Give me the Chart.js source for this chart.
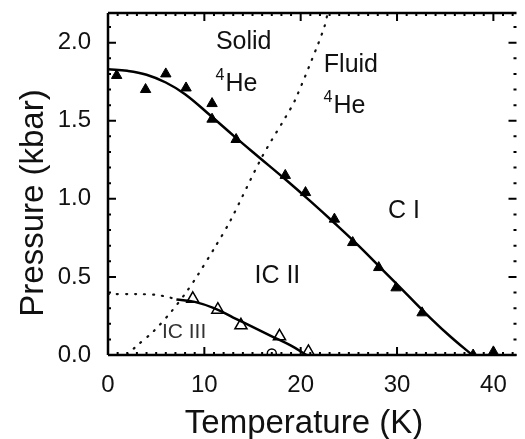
<!DOCTYPE html>
<html lang="en">

<head>
    <meta charset="UTF-8">
    <meta name="viewport" content="width=device-width, initial-scale=1.0">
</head>

<body style="margin:0; background:#fff;">
    <div class="chart-container" style="position:relative; height:439px; width:525px;">
        <canvas id="myChart"></canvas>
    </div>

    <script src="https://cdn.jsdelivr.net/npm/chart.js"></script>

    <script>

        // C I phase boundary, solid triangles
        const ciTemp = [0.9, 3.9, 6.0, 8.1, 10.8, 10.8, 13.3, 18.4, 20.5, 23.5, 25.4, 28.1, 29.9, 32.6, 37.9, 40.0];
        const ciPress = [1.79, 1.70, 1.80, 1.71, 1.61, 1.51, 1.38, 1.15, 1.04, 0.87, 0.72, 0.56, 0.43, 0.27, 0.0, 0.02];

        // fitted C I line
        const ciLineTemp = [0, 2, 4, 6, 8, 10.6, 13.2, 15.7, 18.4, 21, 23.5, 26, 28.5, 31, 33.5, 35.5, 37.8];
        const ciLinePress = [1.83, 1.82, 1.795, 1.745, 1.67, 1.535, 1.395, 1.265, 1.125, 0.985, 0.845, 0.70, 0.545, 0.39, 0.235, 0.12, 0.0];

        // IC II boundary, open triangles
        const iciiTemp = [8.8, 11.4, 13.8, 17.8, 20.8];
        const iciiPress = [0.36, 0.29, 0.19, 0.12, 0.02];
        const iciiLineTemp = [7.1, 9, 11, 13, 15, 17, 19, 20.6];
        const iciiLinePress = [0.355, 0.34, 0.30, 0.24, 0.18, 0.12, 0.06, 0.0];

        // open circle
        const circTemp = [17.0];
        const circPress = [0.01];

        // IC III dotted boundary
        const iciiiTemp = [0, 3, 5, 6.3, 7.1];
        const iciiiPress = [0.39, 0.39, 0.385, 0.37, 0.355];

        // melting curve of 4He (dotted)
        const meltTemp = [2.0, 3.0, 4.7, 6.6, 8.1, 9.3, 11.1, 12.7, 16.0, 18.4, 19.4, 21.8, 22.5, 22.8];
        const meltPress = [0.0, 0.06, 0.15, 0.28, 0.40, 0.51, 0.69, 0.86, 1.27, 1.52, 1.63, 1.99, 2.11, 2.19];

        const xTicks = [0, 10, 20, 30, 40];
        const yTicks = [0.0, 0.5, 1.0, 1.5, 2.0];
        const xRange = [0, 42.4];
        const yRange = [0, 2.19];

        const zip = (xs, ys) => xs.map((x, i) => ({ x: x, y: ys[i] }));

        const FONT = '"Liberation Sans", Arial, sans-serif';

        const frame = {
            id: 'frame',
            afterDraw(chart) {
                const c = chart.ctx;
                const a = chart.chartArea;
                const xs = chart.scales.x, ys = chart.scales.y;
                c.save();
                c.strokeStyle = '#000';
                c.lineWidth = 2.5;
                c.beginPath();
                c.moveTo(a.left, a.top); c.lineTo(a.left, a.bottom);
                c.moveTo(a.left, a.bottom); c.lineTo(a.right, a.bottom);
                c.moveTo(a.left, a.top); c.lineTo(a.right, a.top);
                c.stroke();

                // inward ticks, major and minor
                c.lineWidth = 2;
                c.beginPath();
                for (let v = 0; v <= xRange[1]; v += 1) {
                    const px = xs.getPixelForValue(v);
                    const len = (v % 10 === 0) ? 8 : 3;
                    c.moveTo(px, a.bottom); c.lineTo(px, a.bottom - len);
                    c.moveTo(px, a.top); c.lineTo(px, a.top + len);
                }
                for (let i = 0; i <= 21; i++) {
                    const py = ys.getPixelForValue(i / 10);
                    const len = (i % 5 === 0) ? 8 : 3;
                    c.moveTo(a.left, py); c.lineTo(a.left + len, py);
                    c.moveTo(a.right, py); c.lineTo(a.right - len, py);
                }
                c.stroke();

                // region labels
                c.fillStyle = '#111';
                c.textBaseline = 'alphabetic';
                c.textAlign = 'left';
                const txt = (s, T, P, size) => {
                    c.font = size + 'px ' + FONT;
                    c.fillText(s, xs.getPixelForValue(T), ys.getPixelForValue(P));
                };
                const he = (T, P) => {
                    const px = xs.getPixelForValue(T), py = ys.getPixelForValue(P);
                    c.font = '16px ' + FONT;
                    c.fillText('4', px - 10, py - 11);
                    c.font = '25px ' + FONT;
                    c.fillText('He', px, py);
                };
                txt('Solid', 11.2, 1.96, 25);
                he(12.2, 1.69);
                txt('Fluid', 22.4, 1.81, 25);
                he(23.4, 1.55);
                txt('C I', 29.05, 0.88, 25);
                txt('IC II', 15.2, 0.46, 25);
                c.fillStyle = '#333';
                txt('IC III', 5.6, 0.11, 21);

                // axis titles
                c.fillStyle = '#111';
                c.font = '33px ' + FONT;
                c.textAlign = 'center';
                c.fillText('Temperature (K)', 304, 433);
                c.translate(43, 203);
                c.rotate(-Math.PI / 2);
                c.fillText('Pressure (kbar)', 0, 0);
                c.restore();
            }
        };

        const ctx = document.getElementById('myChart');

        new Chart(ctx, {
            type: 'scatter',
            data: {
                datasets: [
                    {
                        label: 'melting',
                        data: zip(meltTemp, meltPress),
                        showLine: true,
                        borderColor: '#111',
                        borderWidth: 2.2,
                        borderDash: [1, 8],
                        borderCapStyle: 'round',
                        pointRadius: 0,
                        tension: 0.3
                    },
                    {
                        label: 'IC III',
                        data: zip(iciiiTemp, iciiiPress),
                        showLine: true,
                        borderColor: '#111',
                        borderWidth: 2.2,
                        borderDash: [1, 8],
                        borderCapStyle: 'round',
                        pointRadius: 0,
                        tension: 0.3
                    },
                    {
                        label: 'C I line',
                        data: zip(ciLineTemp, ciLinePress),
                        showLine: true,
                        borderColor: '#000',
                        borderWidth: 2.5,
                        pointRadius: 0,
                        tension: 0.4
                    },
                    {
                        label: 'IC II line',
                        data: zip(iciiLineTemp, iciiLinePress),
                        showLine: true,
                        borderColor: '#000',
                        borderWidth: 2.5,
                        pointRadius: 0,
                        tension: 0.4
                    },
                    {
                        label: 'C I',
                        data: zip(ciTemp, ciPress),
                        pointStyle: 'triangle',
                        pointRadius: 6,
                        backgroundColor: '#000',
                        borderColor: '#000',
                        borderWidth: 1
                    },
                    {
                        label: 'IC II',
                        data: zip(iciiTemp, iciiPress),
                        pointStyle: 'triangle',
                        pointRadius: 7,
                        backgroundColor: '#fff',
                        borderColor: '#000',
                        borderWidth: 1.5
                    },
                    {
                        label: 'circle',
                        data: zip(circTemp, circPress),
                        pointStyle: 'circle',
                        pointRadius: 4.5,
                        backgroundColor: '#fff',
                        borderColor: '#000',
                        borderWidth: 1.5
                    }
                ]
            },
            options: {
                responsive: true,
                maintainAspectRatio: false,
                animation: false,
                layout: { padding: { top: 13, right: 1, left: 0, bottom: 0 } },
                plugins: {
                    legend: { display: false },
                    tooltip: { enabled: false }
                },
                scales: {
                    x: {
                        type: 'linear',
                        min: xRange[0],
                        max: xRange[1],
                        grid: { display: false },
                        border: { display: false },
                        afterBuildTicks: (s) => { s.ticks = xTicks.map(v => ({ value: v })); },
                        afterFit: (s) => { s.height = 84; s.paddingLeft = 0; s.paddingRight = 0; },
                        ticks: {
                            color: '#111',
                            padding: 8,
                            maxRotation: 0,
                            font: { family: FONT, size: 24 },
                            callback: (v) => String(v)
                        }
                    },
                    y: {
                        type: 'linear',
                        min: yRange[0],
                        max: yRange[1],
                        grid: { display: false },
                        border: { display: false },
                        afterBuildTicks: (s) => { s.ticks = yTicks.map(v => ({ value: v })); },
                        afterFit: (s) => { s.width = 108; s.paddingTop = 0; s.paddingBottom = 0; },
                        ticks: {
                            color: '#111',
                            padding: 9,
                            font: { family: FONT, size: 24 },
                            callback: (v) => Number(v).toFixed(1)
                        }
                    }
                }
            },
            plugins: [frame]
        });
    </script>
</body>

</html>
